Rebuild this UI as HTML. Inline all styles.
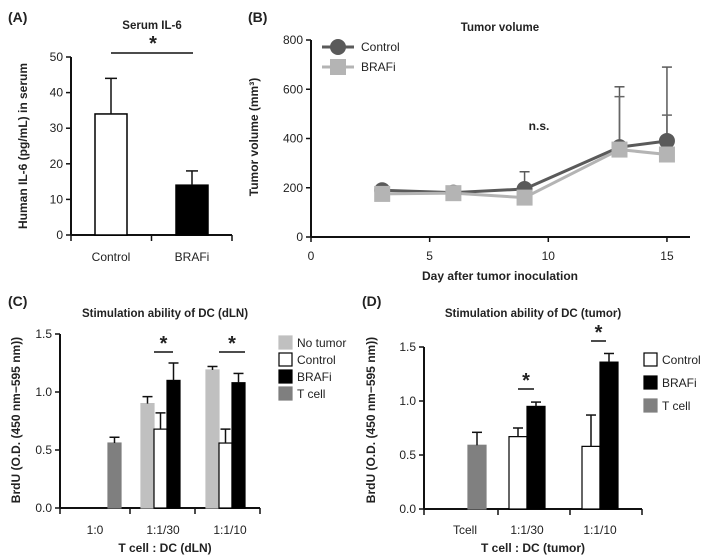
<!DOCTYPE html>
<html><head><meta charset="utf-8"><style>
body{margin:0;background:#fff}
svg{display:block;font-family:"Liberation Sans",Arial,sans-serif}
</style></head><body>
<svg id="s" width="709" height="560" viewBox="0 0 709 560"></svg>
<script>
// Panel A
const aCats=["Control","BRAFi"];
const aVals=[34,14];
const aErr=[10,4];
const aTicks=[0,10,20,30,40,50];
// Panel B
const bDays=[3,6,9,13,15];
const bCtrl=[190,180,195,365,390];
const bCtrlErr=[0,0,70,245,300];
const bBraf=[175,178,160,355,335];
const bBrafErr=[0,0,0,215,160];
const bYTicks=[0,200,400,600,800];
const bXTicks=[0,5,10,15];
// Panel C
const cCats=["1:0","1:1/30","1:1/10"];
const cTcell=[0.56];
const cTcellErr=[0.05];
const cNoTumor=[0.90,1.19];
const cNoTumorErr=[0.06,0.03];
const cControl=[0.68,0.56];
const cControlErr=[0.14,0.12];
const cBraf=[1.10,1.08];
const cBrafErr=[0.15,0.08];
const cTicks=[0,0.5,1.0,1.5];
// Panel D
const dCats=["Tcell","1:1/30","1:1/10"];
const dTcell=[0.59];
const dTcellErr=[0.12];
const dControl=[0.67,0.58];
const dControlErr=[0.08,0.29];
const dBraf=[0.95,1.36];
const dBrafErr=[0.04,0.08];
const dTicks=[0,0.5,1.0,1.5];

const svg=document.getElementById('s');
const NS="http://www.w3.org/2000/svg";
function el(tag,attrs,parent){const e=document.createElementNS(NS,tag);for(const k in attrs)e.setAttribute(k,attrs[k]);(parent||svg).appendChild(e);return e;}
function txt(x,y,s,o,parent){o=o||{};const t=el('text',{x:x,y:y,'font-size':o.size||12,'text-anchor':o.anchor||'middle','font-weight':o.bold?'bold':'normal',fill:'#222'},parent);if(o.rot)t.setAttribute('transform','rotate(-90 '+x+' '+y+')');t.textContent=s;return t;}
function line(x1,y1,x2,y2,w,c,parent){return el('line',{x1:x1,y1:y1,x2:x2,y2:y2,stroke:c||'#111','stroke-width':w||1.5},parent);}
function group(name){const g=el('g',{});return g;}
function errbar(g,x,yTop,yVal,hw,c){line(x,yVal,x,yTop,1.5,c||'#111',g);line(x-hw,yTop,x+hw,yTop,1.5,c||'#111',g);}

// ===== Panel A =====
(function(){
const g=group('panel-a');
const x0=71,x1=232,y0=235,y1=57,max=50;
const ys=v=>y0-(v/max)*(y0-y1);
txt(8,22,'(A)',{anchor:'start',size:14,bold:true},g);
txt(152,29,'Serum IL-6',{bold:true,size:11.5},g);
line(111,53,193,53,1.5,'#111',g);
txt(153,50,'*',{size:20,bold:true},g);
line(x0,y0,x0,y1,2,'#111',g);line(x0,y0,x1,y0,2,'#111',g);
aTicks.forEach(t=>{line(x0-5,ys(t),x0,ys(t),1.5,'#111',g);txt(x0-8,ys(t)+4,String(t),{anchor:'end'},g);});
[x0,(x0+x1)/2,x1].forEach(x=>line(x,y0,x,y0+6,1.5,'#111',g));
const centers=[111,192],fills=['#fff','#000'];
aCats.forEach((c,i)=>{
 const b=el('rect',{x:centers[i]-16,y:ys(aVals[i]),width:32,height:y0-ys(aVals[i]),fill:fills[i],stroke:'#000','stroke-width':1.5},g);
 
 errbar(g,centers[i],ys(aVals[i]+aErr[i]),ys(aVals[i]),6);
 txt(centers[i],261,c,{},g);
});
txt(27,146,'Human IL-6 (pg/mL) in serum',{rot:true,bold:true},g);
})();

// ===== Panel B =====
(function(){
const g=group('panel-b');
const x0=311,y0=237,y1=40;
const xs=d=>x0+d*23.73, ys=v=>y0-(v/800)*(y0-y1);
txt(248,22,'(B)',{anchor:'start',size:14,bold:true},g);
txt(500,31,'Tumor volume',{bold:true,size:11.5},g);
txt(539,130,'n.s.',{bold:true},g);
line(x0,y0,x0,y1,2,'#111',g);line(x0,y0,690,y0,2,'#111',g);
bYTicks.forEach(t=>{line(x0-5,ys(t),x0,ys(t),1.5,'#111',g);txt(x0-8,ys(t)+4,String(t),{anchor:'end'},g);});
bXTicks.forEach(t=>{line(xs(t),y0,xs(t),y0+5,1.5,'#111',g);txt(xs(t),260,String(t),{},g);});
txt(500,280,'Day after tumor inoculation',{bold:true},g);
txt(258,137,'Tumor volume (mm³)',{rot:true,bold:true},g);
bDays.forEach((d,i)=>{
 if(bCtrlErr[i]>0)errbar(g,xs(d),ys(bCtrl[i]+bCtrlErr[i]),ys(bCtrl[i]),5,'#5a5a5a');
 if(bBrafErr[i]>0)errbar(g,xs(d),ys(bBraf[i]+bBrafErr[i]),ys(bBraf[i]),5,'#666');
});
const pc=bDays.map((d,i)=>xs(d)+','+ys(bCtrl[i])).join(' ');
const pb=bDays.map((d,i)=>xs(d)+','+ys(bBraf[i])).join(' ');
const lc=el('polyline',{points:pc,fill:'none',stroke:'#5a5a5a','stroke-width':3},g);

const lb=el('polyline',{points:pb,fill:'none',stroke:'#b4b4b4','stroke-width':3},g);

bDays.forEach((d,i)=>{
 const c=el('circle',{cx:xs(d),cy:ys(bCtrl[i]),r:8,fill:'#5a5a5a'},g);
 
});
bDays.forEach((d,i)=>{
 const r=el('rect',{x:xs(d)-8,y:ys(bBraf[i])-8,width:16,height:16,fill:'#b4b4b4'},g);
 
});
const lg=group('legend-b');g.appendChild(lg);
line(322,47,354,47,3,'#5a5a5a',lg);el('circle',{cx:338,cy:47,r:8,fill:'#5a5a5a'},lg);txt(361,51,'Control',{anchor:'start'},lg);
line(322,67,354,67,3,'#b4b4b4',lg);el('rect',{x:330,y:59,width:16,height:16,fill:'#b4b4b4'},lg);txt(361,71,'BRAFi',{anchor:'start'},lg);
})();

// ===== Bar panel helper =====
function barPanel(cfg){
const g=group(cfg.name);
const ys=v=>cfg.y0-(v/1.5)*(cfg.y0-cfg.y1);
txt(cfg.labX,cfg.labY,cfg.label,{anchor:'start',size:14,bold:true},g);
txt(cfg.titleX,317,cfg.title,{bold:true,size:11.5},g);
line(cfg.x0,cfg.y0,cfg.x0,cfg.y1,2,'#111',g);line(cfg.x0,cfg.y0,cfg.xEnd,cfg.y0,2,'#111',g);
cfg.ticks.forEach(t=>{line(cfg.x0-5,ys(t),cfg.x0,ys(t),1.5,'#111',g);txt(cfg.x0-8,ys(t)+4,t.toFixed(1),{anchor:'end'},g);});
cfg.xTicks.forEach(x=>line(x,cfg.y0,x,cfg.y0+6,1.5,'#111',g));
cfg.cats.forEach((c,i)=>txt(cfg.catX[i],534,c,{},g));
txt(cfg.titleX,552,cfg.xLabel,{bold:true},g);
txt(cfg.yLabX,420,'BrdU (O.D. (450 nm−595 nm))',{rot:true,bold:true},g);
cfg.series.forEach(s=>{
 s.vals.forEach((v,i)=>{
  const x=s.xs[i];
  const r=el('rect',{x:x,y:ys(v),width:cfg.bw,height:cfg.y0-ys(v),fill:s.fill,stroke:s.stroke,'stroke-width':1.2},g);
  
  errbar(g,x+cfg.bw/2,ys(v+s.err[i]),ys(v),5);
 });
});
cfg.stars.forEach(s=>{line(s.x1,s.y,s.x2,s.y,1.5,'#111',g);txt((s.x1+s.x2)/2,s.y-2,'*',{size:20,bold:true},g);});
cfg.legend.forEach((l,i)=>{
 const lg=group('legend-entry-'+l.key);g.appendChild(lg);
 el('rect',{x:cfg.legX,y:l.y-6,width:13,height:13,fill:l.fill,stroke:l.stroke,'stroke-width':1.2},lg);
 txt(cfg.legX+18,l.y+5,l.text,{anchor:'start'},lg);
});
}

barPanel({name:'panel-c',label:'(C)',labX:8,labY:306,title:'Stimulation ability of DC (dLN)',titleX:165,
 x0:60,xEnd:260,y0:508,y1:334,ticks:cTicks,xTicks:[60,130,195,260],cats:cCats,catX:[95,163,230],
 xLabel:'T cell : DC (dLN)',yLabX:20,bw:13,
 series:[
  {key:'t-cell',vals:cTcell,err:cTcellErr,xs:[108],fill:'#7f7f7f',stroke:'#7f7f7f'},
  {key:'no-tumor',vals:cNoTumor,err:cNoTumorErr,xs:[141,206],fill:'#c0c0c0',stroke:'#c0c0c0'},
  {key:'control',vals:cControl,err:cControlErr,xs:[154,219],fill:'#fff',stroke:'#000'},
  {key:'brafi',vals:cBraf,err:cBrafErr,xs:[167,232],fill:'#000',stroke:'#000'}],
 stars:[{x1:154,x2:173,y:352},{x1:219,x2:245,y:352}],
 legX:279,legend:[{key:'no-tumor',text:'No tumor',y:342,fill:'#c0c0c0',stroke:'#c0c0c0'},
  {key:'control',text:'Control',y:359,fill:'#fff',stroke:'#000'},
  {key:'brafi',text:'BRAFi',y:376,fill:'#000',stroke:'#000'},
  {key:'t-cell',text:'T cell',y:393,fill:'#7f7f7f',stroke:'#7f7f7f'}]});

barPanel({name:'panel-d',label:'(D)',labX:362,labY:306,title:'Stimulation ability of DC (tumor)',titleX:533,
 x0:424,xEnd:642,y0:509,y1:347,ticks:dTicks,xTicks:[424,498,570,642],cats:dCats,catX:[465,527,600],
 xLabel:'T cell : DC (tumor)',yLabX:375,bw:18,
 series:[
  {key:'t-cell',vals:dTcell,err:dTcellErr,xs:[468],fill:'#808080',stroke:'#808080'},
  {key:'control',vals:dControl,err:dControlErr,xs:[509,582],fill:'#fff',stroke:'#000'},
  {key:'brafi',vals:dBraf,err:dBrafErr,xs:[527,600],fill:'#000',stroke:'#000'}],
 stars:[{x1:518,x2:534,y:389},{x1:591,x2:606,y:341}],
 legX:644,legend:[{key:'control',text:'Control',y:359,fill:'#fff',stroke:'#000'},
  {key:'brafi',text:'BRAFi',y:382,fill:'#000',stroke:'#000'},
  {key:'t-cell',text:'T cell',y:405,fill:'#808080',stroke:'#808080'}]});
</script>
</body></html>
